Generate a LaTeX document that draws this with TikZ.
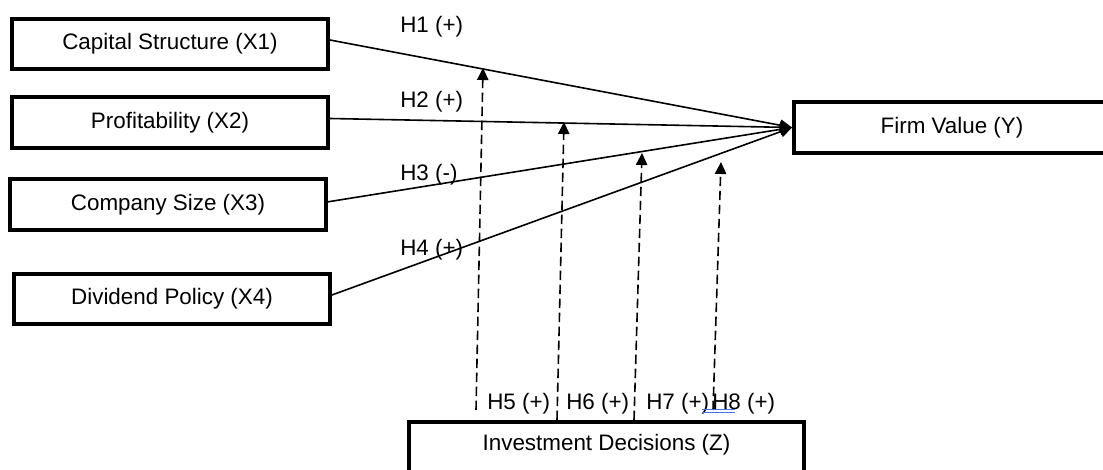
\documentclass[tikz,border=0pt]{standalone}
\usepackage{fontspec}
\setmainfont{Liberation Sans}
\usetikzlibrary{arrows.meta}

\begin{document}
\begin{tikzpicture}[x=0.75pt,y=-0.75pt,
    var/.style={draw,line width=2.9pt,minimum width=237pt,minimum height=38pt,inner sep=0pt,font=\fontsize{16.8}{20}\selectfont},
    hyp/.style={anchor=west,inner sep=0pt,font=\fontsize{16.8}{20}\selectfont},
    effect/.style={line width=1.2pt,-{Triangle[length=9pt,width=8.5pt]}},
    moderation/.style={effect,dash pattern=on 7pt off 3.5pt},
    spellmark/.style={draw={rgb,255:red,70;green,115;blue,230},line width=0.7pt}]
  \useasboundingbox (0,0) rectangle (1103,470);
  \node[var] (X1) at (170,44) {Capital Structure (X1)};
  \node[var] (X2) at (170,122.5) {Profitability (X2)};
  \node[var] (X3) at (168,204.5) {Company Size (X3)};
  \node[var] (X4) at (172,299) {Dividend Policy (X4)};
  \node[var] (Y) at (952,127.5) {Firm Value (Y)};
  \node[var,minimum width=296pt,minimum height=45pt,text height=12pt,text depth=14pt] (Z) at (606.5,452) {Investment Decisions (Z)};
  \draw[effect] ([yshift=3pt]X1.east) -- (Y.west);
  \draw[effect] ([yshift=3pt]X2.east) -- (Y.west);
  \draw[effect] ([yshift=2pt]X3.east) -- (Y.west);
  \draw[effect] ([yshift=3pt]X4.east) -- (Y.west);
  \node[hyp] (H1) at (400,27) {H1 (+)};
  \node[hyp] (H2) at (400,102) {H2 (+)};
  \node[hyp] (H3) at (400,175) {H3 (-)};
  \node[hyp] (H4) at (400,250) {H4 (+)};
  \coordinate (m5a) at (476,410);
  \coordinate (m5b) at (483,68);
  \coordinate (m6a) at (557,420);
  \coordinate (m6b) at (564,122);
  \coordinate (m7a) at (634,420);
  \coordinate (m7b) at (642,153);
  \coordinate (m8a) at (713,410);
  \coordinate (m8b) at (721,162);
  \draw[moderation] (m5a) -- (m5b);
  \draw[moderation] (m6a) -- (m6b);
  \draw[moderation] (m7a) -- (m7b);
  \draw[moderation] (m8a) -- (m8b);
  \node[hyp] (H5) at (487,404) {H5 (+)};
  \node[hyp] (H6) at (566,404) {H6 (+)};
  \node[hyp] (H7) at (646,404) {H7 (+)};
  \node[hyp] (H8) at (712,404) {H8 (+)};
  \draw[spellmark] (702,409) -- (735,409) (702,412) -- (735,412);
\end{tikzpicture}
\end{document}
